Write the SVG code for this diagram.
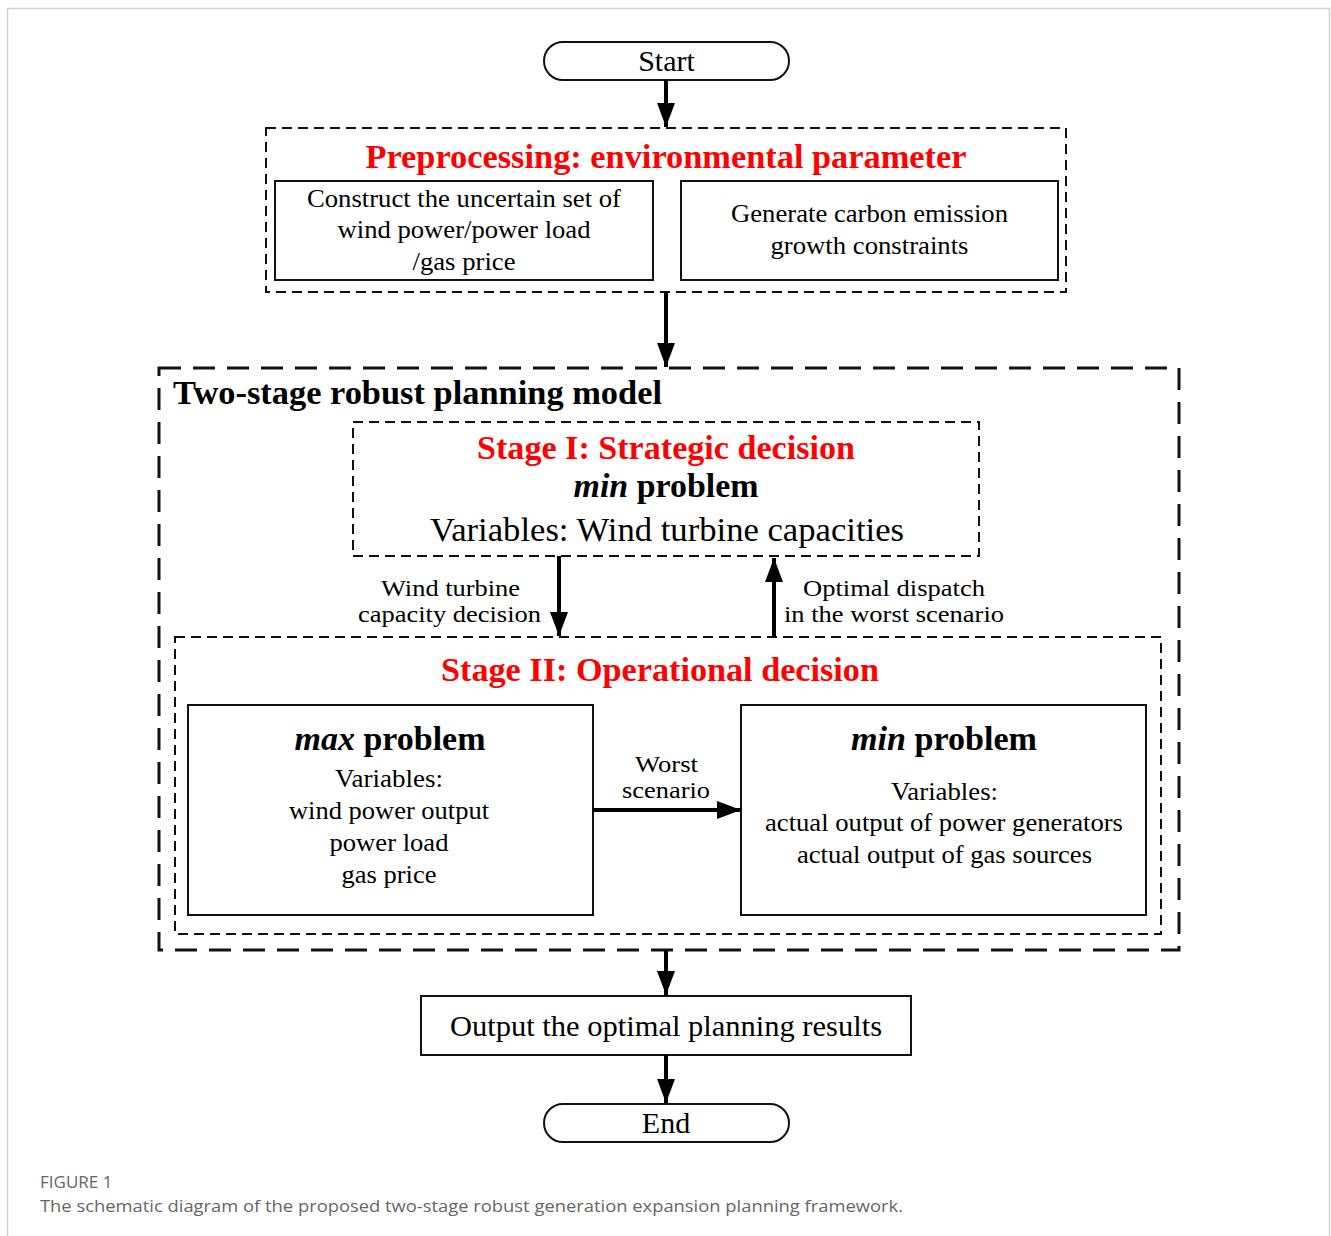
<svg xmlns="http://www.w3.org/2000/svg" width="1331" height="1236" viewBox="0 0 1331 1236">
<style>
.t{font-family:"Liberation Serif","Times New Roman",serif;fill:#000;text-anchor:middle}
.r{font-size:26px}
.l{font-size:24px}
.b{font-size:34px;font-weight:bold}
.red{fill:#FF0000}
.solid{fill:#fff;stroke:#111;stroke-width:2}
.dash{fill:none;stroke:#111;stroke-width:2;stroke-dasharray:10 6}
.dashL{fill:none;stroke:#111;stroke-width:3;stroke-dasharray:22 12}
.cap{font-family:"Open Sans","Liberation Sans",sans-serif;fill:#666}
.arr{stroke:#000;stroke-width:4;fill:none;marker-end:url(#ah)}
</style>
<defs>
<marker id="ah" markerUnits="userSpaceOnUse" markerWidth="24" markerHeight="18" refX="24" refY="9" orient="auto">
<path d="M0,0 L24,9 L0,18 z" fill="#000"/>
</marker>
</defs>
<rect x="0" y="0" width="1331" height="1236" fill="#fff"/>
<path d="M7.5,1240 V8.5 H1329.5 V1240" fill="none" stroke="#d0d0d0" stroke-width="1.5"/>

<g id="start">
<rect x="544" y="42" width="245" height="38" rx="19" class="solid"/>
<text class="t" x="666.5" y="71" font-size="30">Start</text>
</g>

<g id="preprocessing">
<rect x="266" y="128" width="800" height="164" class="dash"/>
<text class="t b red" x="666" y="168" textLength="601" lengthAdjust="spacingAndGlyphs">Preprocessing: environmental parameter</text>
</g>
<g id="uncertain-set">
<rect x="275" y="181" width="378" height="99" class="solid"/>
<text class="t r" x="464" y="207" textLength="314" lengthAdjust="spacingAndGlyphs">Construct the uncertain set of</text>
<text class="t r" x="464" y="238" textLength="253" lengthAdjust="spacingAndGlyphs">wind power/power load</text>
<text class="t r" x="464" y="270" textLength="103" lengthAdjust="spacingAndGlyphs">/gas price</text>
</g>
<g id="carbon">
<rect x="681" y="181" width="377" height="99" class="solid"/>
<text class="t r" x="869.5" y="222" textLength="277" lengthAdjust="spacingAndGlyphs">Generate carbon emission</text>
<text class="t r" x="869.5" y="254" textLength="198" lengthAdjust="spacingAndGlyphs">growth constraints</text>
</g>

<g id="two-stage-model">
<rect x="159" y="368" width="1020" height="582" class="dashL"/>
<text class="t b" x="173" y="404" style="text-anchor:start" textLength="489" lengthAdjust="spacingAndGlyphs">Two-stage robust planning model</text>
</g>

<g id="stage1">
<rect x="353" y="422" width="626" height="134" class="dash"/>
<text class="t b red" x="666" y="459" textLength="378" lengthAdjust="spacingAndGlyphs">Stage I: Strategic decision</text>
<text class="t b" x="666" y="497" textLength="185" lengthAdjust="spacingAndGlyphs"><tspan font-style="italic">min</tspan> problem</text>
<text class="t" x="667" y="541" font-size="34" textLength="474" lengthAdjust="spacingAndGlyphs">Variables: Wind turbine capacities</text>
</g>

<g id="stage2">
<rect x="175" y="637" width="986" height="297" class="dash"/>
<text class="t b red" x="660" y="681" textLength="438" lengthAdjust="spacingAndGlyphs">Stage II: Operational decision</text>
</g>

<g id="max-problem">
<rect x="188" y="705" width="405" height="210" class="solid"/>
<text class="t b" x="390" y="750" textLength="191" lengthAdjust="spacingAndGlyphs"><tspan font-style="italic">max</tspan> problem</text>
<text class="t r" x="389" y="787" textLength="108" lengthAdjust="spacingAndGlyphs">Variables:</text>
<text class="t r" x="389" y="819" textLength="200" lengthAdjust="spacingAndGlyphs">wind power output</text>
<text class="t r" x="389" y="851" textLength="119" lengthAdjust="spacingAndGlyphs">power load</text>
<text class="t r" x="389" y="883" textLength="95" lengthAdjust="spacingAndGlyphs">gas price</text>
</g>

<g id="min-problem">
<rect x="741" y="705" width="405" height="210" class="solid"/>
<text class="t b" x="944" y="750" textLength="186" lengthAdjust="spacingAndGlyphs"><tspan font-style="italic">min</tspan> problem</text>
<text class="t r" x="944.5" y="800" textLength="107" lengthAdjust="spacingAndGlyphs">Variables:</text>
<text class="t r" x="944" y="831" textLength="358" lengthAdjust="spacingAndGlyphs">actual output of power generators</text>
<text class="t r" x="944.5" y="863" textLength="295" lengthAdjust="spacingAndGlyphs">actual output of gas sources</text>
</g>

<g id="output">
<rect x="421" y="996" width="490" height="59" class="solid"/>
<text class="t" x="666" y="1036" font-size="30" textLength="432" lengthAdjust="spacingAndGlyphs">Output the optimal planning results</text>
</g>

<g id="end">
<rect x="544" y="1104" width="245" height="38" rx="19" class="solid"/>
<text class="t" x="666" y="1133" font-size="30">End</text>
</g>

<g id="connectors">
<line class="arr" x1="666" y1="80" x2="666" y2="127"/>
<line class="arr" x1="666" y1="292" x2="666" y2="367"/>
<line class="arr" x1="559" y1="556" x2="559" y2="636"/>
<line class="arr" x1="774" y1="637" x2="774" y2="558"/>
<line class="arr" x1="593" y1="810" x2="741" y2="810"/>
<line class="arr" x1="666" y1="950" x2="666" y2="995"/>
<line class="arr" x1="666" y1="1055" x2="666" y2="1103"/>
<text class="t l" x="450.5" y="596" textLength="139" lengthAdjust="spacingAndGlyphs">Wind turbine</text>
<text class="t l" x="449.5" y="622" textLength="183" lengthAdjust="spacingAndGlyphs">capacity decision</text>
<text class="t l" x="894" y="596" textLength="182" lengthAdjust="spacingAndGlyphs">Optimal dispatch</text>
<text class="t l" x="894" y="622" textLength="220" lengthAdjust="spacingAndGlyphs">in the worst scenario</text>
<text class="t l" x="666.5" y="772" textLength="63" lengthAdjust="spacingAndGlyphs">Worst</text>
<text class="t l" x="666" y="798" textLength="88" lengthAdjust="spacingAndGlyphs">scenario</text>
</g>

<g id="caption">
<text class="cap" x="40" y="1188" font-size="17">FIGURE 1</text>
<text class="cap" x="40" y="1212" font-size="17" textLength="863" lengthAdjust="spacingAndGlyphs">The schematic diagram of the proposed two-stage robust generation expansion planning framework.</text>
</g>
</svg>
